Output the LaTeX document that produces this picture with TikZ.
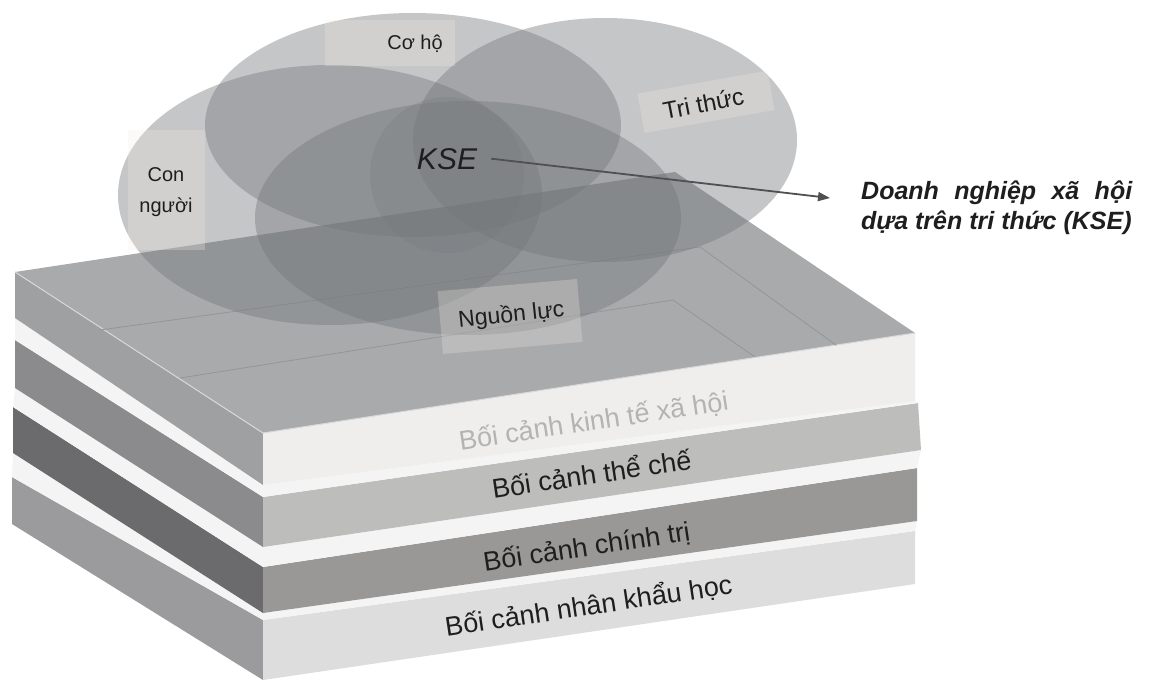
\documentclass[tikz,border=0pt]{standalone}
\usepackage{fontspec}
\setmainfont{Liberation Sans}
\usetikzlibrary{arrows.meta}
\definecolor{topf}{HTML}{A8AAAC}
\definecolor{leftA}{HTML}{9EA0A2}
\definecolor{leftB}{HTML}{8B8B8D}
\definecolor{leftC}{HTML}{6B6B6D}
\definecolor{leftD}{HTML}{9B9B9D}
\definecolor{frontA}{HTML}{EFEEEC}
\definecolor{frontB}{HTML}{BDBDBB}
\definecolor{frontC}{HTML}{9A9896}
\definecolor{frontD}{HTML}{DDDDDD}
\definecolor{stripc}{HTML}{F4F4F4}
\definecolor{ellc}{HTML}{75787C}
\definecolor{gridc}{HTML}{939597}
\definecolor{kinhte}{HTML}{B3B3B3}
\definecolor{arrc}{HTML}{505050}
\definecolor{txtc}{HTML}{1E1E1E}
\definecolor{boxc}{HTML}{F4EFE6}
\begin{document}
\begin{tikzpicture}[x=1pt,y=-1pt,
  ell/.style={fill=ellc, fill opacity=0.42},
  lbox/.style={fill=boxc, fill opacity=0.26},
  lab/.style={inner sep=0pt, text=txtc},
  slabl/.style={anchor=base, rotate=8.5, inner sep=0pt, text=txtc, font=\fontsize{27}{30}\selectfont},
  gridl/.style={draw=gridc, line width=0.8pt},
  arr/.style={draw=arrc, line width=1.8pt, -{Triangle[length=12pt,width=9pt]}}]
\useasboundingbox (0,0) rectangle (1151,685);
\fill[white] (0,0) rectangle (1151,685);
% slab 3 (bottom)
\fill[leftD] (12,477) -- (263,620) -- (263,680) -- (12,524) -- cycle;
\fill[frontD] (263,620) -- (915,531) -- (915,584) -- (263,680) -- cycle;
\fill[stripc] (12,477) -- (263,620) -- (915,531) -- (917,521) -- (263,613) -- (13,453) -- cycle;
% slab 2
\fill[leftC] (13,407) -- (263,567) -- (263,613) -- (13,453) -- cycle;
\fill[frontC] (263,567) -- (917,468) -- (917,521) -- (263,613) -- cycle;
\fill[stripc] (13,407) -- (263,567) -- (917,468) -- (921,450) -- (263,547) -- (15,388) -- cycle;
% slab 1
\fill[leftB] (15,340) -- (263,497) -- (263,547) -- (15,388) -- cycle;
\fill[frontB] (263,497) -- (918,403) -- (921,450) -- (263,547) -- cycle;
\fill[stripc] (15,340) -- (263,497) -- (918,403) -- (915,401) -- (263,485) -- (15,318) -- cycle;
% slab 0 (top)
\fill[leftA] (15,272) -- (263,433) -- (263,485) -- (15,318) -- cycle;
\fill[frontA] (263,433) -- (915,333) -- (915,401) -- (263,485) -- cycle;
\fill[topf] (15,272) -- (675,172) -- (915,333) -- (263,433) -- cycle;
\draw[white!55!topf, line width=1pt] (15,272) -- (263,433) -- (915,333);
\draw[gridl] (100,330) -- (700,247) -- (836,345);
\draw[gridl] (180,378) -- (673,300) -- (755,357);
% ellipses
\fill[ell] (413,125) ellipse [x radius=208pt, y radius=112pt];
\fill[ell] (330,195) ellipse [x radius=212pt, y radius=130pt];
\fill[ell] (605,140) ellipse [x radius=192pt, y radius=122pt];
\fill[ell] (468,218) ellipse [x radius=213pt, y radius=117pt];
\fill[ell, fill opacity=0.25] (447,175) ellipse [x radius=77pt, y radius=78pt];
% label boxes
\fill[lbox] (325,20) rectangle (455,66);
\fill[lbox] (128,130) rectangle (205,250);
\fill[lbox, rotate around={10:(705,102)}] (640,82) rectangle (772,122);
\fill[lbox, rotate around={5:(510,316)}] (440,285) rectangle (580,348);
% labels
\node[lab, font=\fontsize{20}{24}\selectfont] (coho) at (415,44) {Cơ hộ};
\node[lab, align=center, font=\fontsize{20}{31}\selectfont] (connguoi) at (166,192) {Con\\người};
\node[lab, anchor=base, rotate=11, font=\fontsize{24}{28}\selectfont] (trithuc) at (705,112) {Tri thức};
\node[lab, anchor=base, rotate=6, font=\fontsize{23}{28}\selectfont] (nguonluc) at (512,322) {Nguồn lực};
\node[lab, anchor=base, inner xsep=14pt, font=\fontsize{30}{34}\selectfont\itshape] (kse) at (447,169) {KSE};
% arrow and description
\coordinate (tgt) at (830,198);
\draw[arr] (kse.east) -- (tgt);
\node[lab, anchor=north west, align=left, font=\fontsize{25}{30}\selectfont\bfseries\itshape] (ksetext) at (861,181)
  {\hbox to 271pt{Doanh\hfill nghiệp\hfill xã\hfill hội}\\dựa trên tri thức (KSE)};
% slab labels
\node[slabl, text=kinhte] (lab0) at (595,430) {Bối cảnh kinh tế xã hội};
\node[slabl] (lab1) at (593,484) {Bối cảnh thể chế};
\node[slabl] (lab2) at (588,556) {Bối cảnh chính trị};
\node[slabl] (lab3) at (590,615) {Bối cảnh nhân khẩu học};
\end{tikzpicture}
\end{document}
